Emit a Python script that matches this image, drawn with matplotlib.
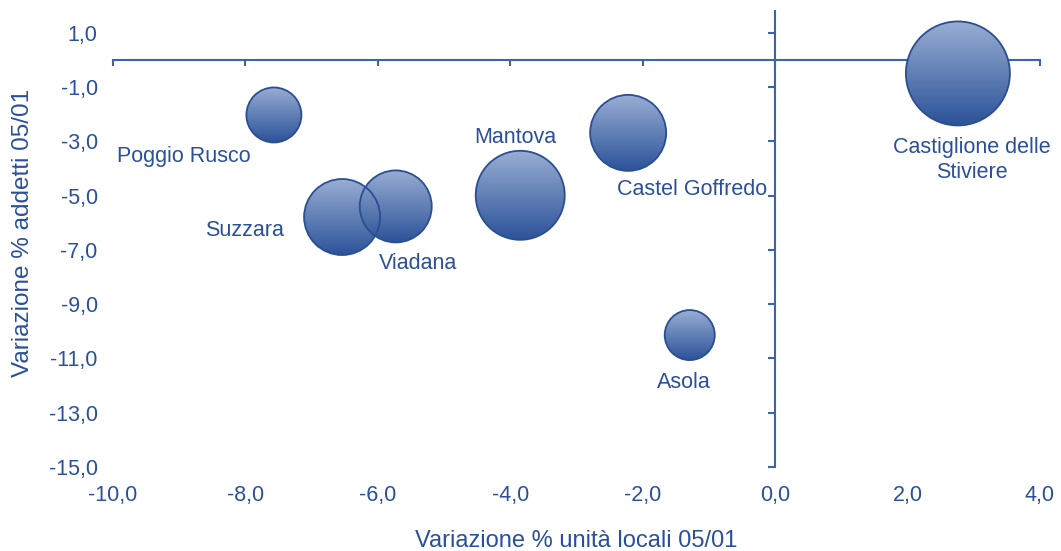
import numpy as np
import matplotlib
matplotlib.use('Agg')
import matplotlib.pyplot as plt
from matplotlib.patches import Circle
from matplotlib.transforms import ScaledTranslation
from matplotlib.colors import LinearSegmentedColormap

# dati
comuni = ['Poggio Rusco', 'Suzzara', 'Viadana', 'Mantova', 'Castel Goffredo', 'Asola',
          'Castiglione delle\nStiviere']
var_unita_locali = [-7.57, -6.54, -5.73, -3.85, -2.22, -1.29, 2.76]
var_addetti = [-2.03, -5.79, -5.40, -4.99, -2.69, -10.14, -0.50]
dimensione = [756, 1444, 1296, 1980, 1444, 625, 2704]

x_ticks = [-10, -8, -6, -4, -2, 0, 2, 4]
y_ticks = [1, -1, -3, -5, -7, -9, -11, -13, -15]

# spostamento etichette (pixel) rispetto al centro della bolla
offset_etichette = [(-90, -42), (-98, -13), (22, -57), (-5, 58), (64, -57), (-6, -47), (14, -87)]

BLU = '#2a4f9c'
LINEA = '#3a64ad'

plt.rcParams['font.family'] = ['Liberation Sans', 'DejaVu Sans']

fig = plt.figure(figsize=(10.61, 5.51), dpi=100)
ax = fig.add_axes([0.1065, 0.1525, 0.8737, 0.8275])
ax.set_xlim(-10, 4)
ax.set_ylim(-15, 1.8)

# assi che si incrociano nell'origine
for s in ['top', 'right']:
    ax.spines[s].set_visible(False)
ax.spines['left'].set_position(('data', 0))
ax.spines['bottom'].set_position(('data', 0))
ax.spines['left'].set_color(LINEA)
ax.spines['bottom'].set_color(LINEA)
ax.spines['left'].set_linewidth(1.5)
ax.spines['bottom'].set_linewidth(1.5)
ax.spines['bottom'].set_bounds(-10, 4)
ax.set_xticks(x_ticks)
ax.set_yticks(y_ticks)
ax.tick_params(axis='x', direction='out', length=4, width=1.5, color=LINEA, labelbottom=False)
ax.tick_params(axis='y', direction='out', length=5, width=1.5, color=LINEA, labelleft=False)

# etichette dei tick sui bordi
fmt = lambda v: ('%.1f' % v).replace('.', ',')
secx = ax.secondary_xaxis('bottom')
secx.set_xticks(x_ticks)
secx.set_xticklabels([fmt(v) for v in x_ticks])
secx.tick_params(length=0, pad=13, labelsize=15.5, labelcolor=BLU)
secx.spines['bottom'].set_visible(False)
secx.set_xlabel('Variazione % unità locali 05/01', fontsize=17, color=BLU, labelpad=17)

secy = ax.secondary_yaxis('left')
secy.set_yticks(y_ticks)
secy.set_yticklabels([fmt(v) for v in y_ticks])
secy.tick_params(length=0, pad=11, labelsize=15.5, labelcolor=BLU)
secy.spines['left'].set_visible(False)
secy.set_ylabel('Variazione % addetti 05/01', fontsize=17.5, color=BLU)
secy.yaxis.set_label_coords(-0.085, 0.513, transform=ax.transAxes)

# bolle con sfumatura
cmap = LinearSegmentedColormap.from_list('bolla', ['#98add3', '#2c5399'])
grad = np.linspace(0, 1, 256).reshape(-1, 1)
for x, y, d in zip(var_unita_locali, var_addetti, dimensione):
    r = np.sqrt(d) / fig.dpi
    trans = fig.dpi_scale_trans + ScaledTranslation(x, y, ax.transData)
    circ = Circle((0, 0), r, transform=trans, facecolor='none', edgecolor='#2a4e92',
                  linewidth=1.3, zorder=4)
    ax.add_patch(circ)
    im = ax.imshow(grad, cmap=cmap, extent=[-r, r, -r, r], origin='upper',
                   aspect='auto', zorder=3, interpolation='bilinear')
    im.set_transform(trans)
    im.set_clip_path(circ)

for nome, x, y, off in zip(comuni, var_unita_locali, var_addetti, offset_etichette):
    ax.annotate(nome, (x, y), xytext=off, textcoords='offset pixels', ha='center',
                va='center', fontsize=15.5, color=BLU, zorder=5, linespacing=1.25)

ax.set_xlim(-10, 4)
ax.set_ylim(-15, 1.8)

fig.savefig('out.png', dpi=100)
